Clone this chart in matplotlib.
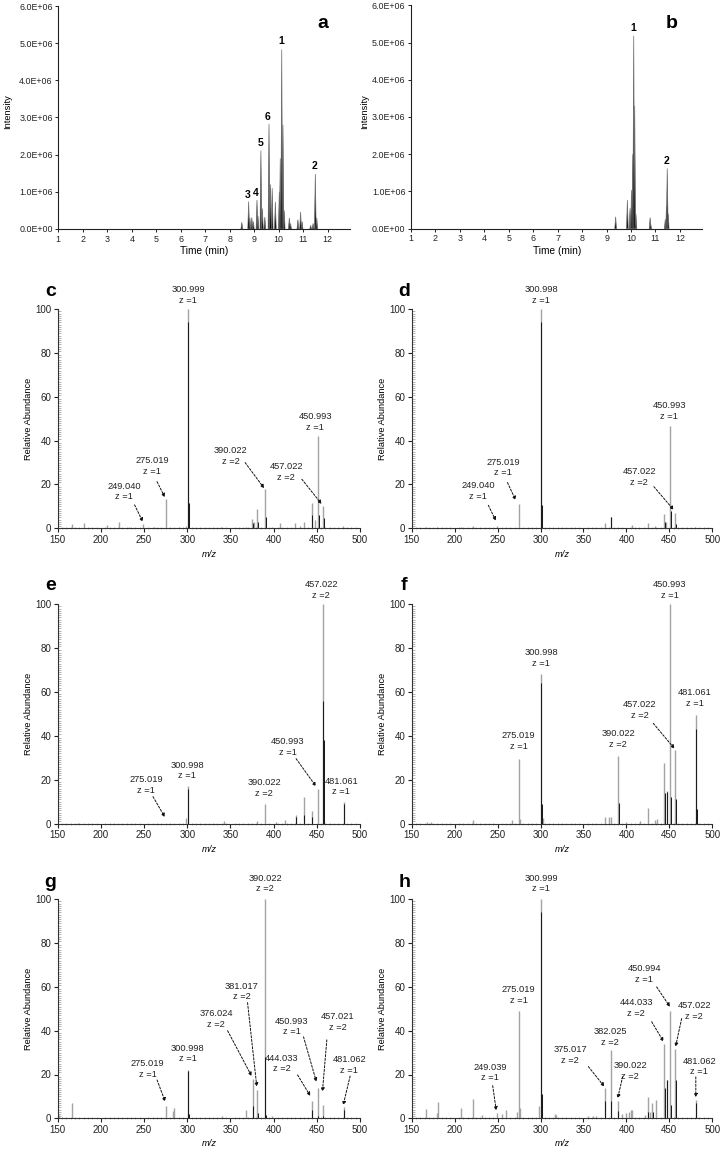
import matplotlib
matplotlib.use("Agg")
import matplotlib.pyplot as plt
from matplotlib.ticker import MultipleLocator, FuncFormatter

plt.rcParams['font.family'] = ['Liberation Sans', 'DejaVu Sans']

# ---------------- data: chromatograms ----------------
a_peak_t = [8.49, 8.77, 8.82, 8.90, 8.96, 9.11, 9.15, 9.27, 9.33, 9.43, 9.60, 9.66, 9.73,
            9.86, 10.02, 10.06, 10.12, 10.17, 10.22, 10.43, 10.48, 10.78, 10.89, 10.95,
            11.30, 11.40, 11.49, 11.55]
a_peak_h = [0.18e6, 0.74e6, 0.30e6, 0.31e6, 0.20e6, 0.78e6, 0.35e6, 2.11e6, 0.55e6, 0.32e6,
            2.83e6, 1.20e6, 1.10e6, 0.73e6, 1.00e6, 1.90e6, 4.83e6, 2.80e6, 0.50e6, 0.30e6,
            0.15e6, 0.25e6, 0.46e6, 0.20e6, 0.10e6, 0.15e6, 1.48e6, 0.30e6]
a_num = ['1', '2', '3', '4', '5', '6']
a_num_t = [10.10, 11.45, 8.73, 9.06, 9.26, 9.55]
a_num_y = [5.06e6, 1.70e6, 0.915e6, 0.98e6, 2.31e6, 3.02e6]

b_peak_t = [9.37, 9.85, 9.96, 10.02, 10.07, 10.11, 10.15, 10.20, 10.78, 10.80,
            11.40, 11.45, 11.48, 11.52]
b_peak_h = [0.32e6, 0.77e6, 0.55e6, 1.04e6, 2.00e6, 5.18e6, 3.30e6, 0.40e6, 0.30e6, 0.15e6,
            0.25e6, 0.60e6, 1.62e6, 0.40e6]
b_num = ['1', '2']
b_num_t = [10.09, 11.46]
b_num_y = [5.40e6, 1.83e6]

chrom_xticks = list(range(1, 13))
chrom_yticks = [0, 1e6, 2e6, 3e6, 4e6, 5e6, 6e6]

# ---------------- data: mass spectra ----------------
mz_ticks = [150, 200, 250, 300, 350, 400, 450, 500]
ab_ticks = [0, 20, 40, 60, 80, 100]

c_mz = [167, 181, 207, 221, 232, 249, 262, 275, 290, 298, 301, 339, 368, 375, 377, 381,
        390, 398, 407, 425, 431, 435, 444, 448, 451, 457, 480]
c_ab = [1.8, 2.2, 1.5, 2.8, 0.6, 1.8, 0.6, 13.4, 0.5, 1.2, 100, 0.8, 0.8, 4.2, 3.0, 8.8,
        17.8, 0.8, 2.3, 2.6, 1.2, 3.0, 11.7, 4.0, 42, 10.2, 1.2]
c_mz_k = [300.6, 302, 376, 382, 391, 445, 452, 458]
c_ab_k = [94, 11.4, 2.5, 3.0, 5.0, 6.0, 6.0, 4.5]
c_lab = ["300.999\nz =1", "450.993\nz =1", "390.022\nz =2", "457.022\nz =2",
         "275.019\nz =1", "249.040\nz =1"]
c_lab_xy = [(301, 102), (448, 44), (350, 28.6), (414.6, 21.3), (259, 24), (227, 12.3)]
c_arr_tail = [None, None, (367, 30), (432.7, 22.4), (265, 21.3), (239, 10.7)]
c_arr_head = [None, None, (389, 18.3), (455.5, 11.1), (274, 14.2), (248.5, 3)]

d_mz = [167, 180, 207, 221, 249, 275, 301, 375, 382, 407, 425, 433, 444, 446, 451, 457, 480]
d_ab = [0.6, 0.8, 0.6, 1.2, 1.0, 11.1, 100, 2.3, 5.0, 1.5, 2.3, 1.0, 6.4, 3.0, 46.9, 7.2, 0.6]
d_mz_k = [300.6, 302, 382, 444.5, 452, 457.5]
d_ab_k = [94, 10.7, 5.0, 3.0, 8.0, 2.0]
d_lab = ["300.998\nz =1", "450.993\nz =1", "275.019\nz =1", "249.040\nz =1", "457.022\nz =2"]
d_lab_xy = [(300.6, 102), (450, 49.2), (256.4, 23.3), (227.6, 12.6), (415, 19)]
d_arr_tail = [None, None, (261.5, 20.9), (239.2, 10.5), (432, 19)]
d_arr_head = [None, None, (271, 12.9), (248, 3.5), (455, 8.4)]

e_mz = [173, 299, 301, 342, 381, 390, 403, 413, 426, 435, 444, 451, 457, 481]
e_ab = [0.5, 2.5, 17, 1.4, 1.0, 9.1, 0.8, 1.8, 4.1, 12, 5.9, 15.9, 100, 9.9]
e_mz_k = [300.5, 426, 435.5, 444.5, 457.5, 458, 481.5]
e_ab_k = [16, 3.0, 4.0, 3.0, 56, 38, 9.0]
e_lab = ["457.022\nz =2", "450.993\nz =1", "481.061\nz =1", "390.022\nz =2",
         "300.998\nz =1", "275.019\nz =1"]
e_lab_xy = [(455, 102), (416, 30.5), (478.5, 12.4), (389, 11.8), (300, 19.7), (252.2, 13)]
e_arr_tail = [None, (426, 29.6), None, None, None, (260.3, 12.3)]
e_arr_head = [None, (449, 17), None, None, None, (274, 3)]

f_mz = [168, 173, 221, 267, 275, 276, 301, 303, 375, 380, 382, 390, 399, 416, 425, 433,
        436, 444, 447, 451, 457, 481]
f_ab = [0.6, 0.6, 1.8, 1.5, 29.5, 2.0, 68.4, 2.5, 3.2, 3.0, 3.0, 31, 0.8, 1.0, 7.3, 1.5,
        2.0, 27.5, 15, 100, 33.5, 49.6]
f_mz_k = [300.6, 302, 391, 444.5, 447.5, 452, 457.5, 481.5, 482.5]
f_ab_k = [64, 9.0, 9.4, 14, 14.5, 12, 11, 43, 6.5]
f_lab = ["450.993\nz =1", "300.998\nz =1", "481.061\nz =1", "457.022\nz =2",
         "390.022\nz =2", "275.019\nz =1"]
f_lab_xy = [(450.5, 102), (300.6, 71), (480, 52.7), (415.8, 47.4), (390.6, 34), (274.6, 33)]
f_arr_tail = [None, None, None, (431.3, 45.7), None, None]
f_arr_head = [None, None, None, (456, 34.2), None, None]

g_mz = [151, 167, 275, 284, 285, 301, 340, 368, 376, 381, 390, 398, 444, 451, 457, 481]
g_ab = [1.5, 7.0, 5.5, 3.5, 4.5, 22, 1.2, 4.0, 18, 13, 100, 1.0, 8.0, 14, 6.0, 5.0]
g_mz_k = [301, 302, 376.5, 381.5, 390.5, 391.5, 444.5, 451.5, 457.5, 481]
g_ab_k = [21.5, 2.0, 5.5, 2.5, 28, 1.5, 4.0, 1.0, 1.0, 4.0]
g_lab = ["390.022\nz =2", "381.017\nz =2", "376.024\nz =2", "300.998\nz =1",
         "275.019\nz =1", "450.993\nz =1", "457.021\nz =2", "444.033\nz =2",
         "481.062\nz =1"]
g_lab_xy = [(390, 102.7), (362.9, 53.4), (333.2, 40.8), (300.6, 25.1), (254, 18),
            (421, 37.4), (474, 39.3), (409.5, 20.5), (487.4, 19.9)]
g_arr_tail = [None, (369.8, 52.8), (346.7, 40), None, (265, 17.5), (434.6, 37.2),
              (461.6, 35.8), (427.7, 19.8), (488.6, 19.3)]
g_arr_head = [None, (380.5, 14.5), (374.5, 19.3), None, (274.5, 7.6), (449.5, 16.7),
              (456.5, 12.2), (442.5, 10.2), (480.5, 6)]

h_mz = [167, 180, 181, 207, 221, 232, 249, 255, 260, 273, 275, 276, 298, 301, 317, 318,
        355, 361, 365, 375, 382, 390, 395, 400, 403, 405, 407, 422, 425, 428, 430, 435,
        444, 447, 451, 457, 481]
h_ab = [4.2, 2.5, 7.5, 4.5, 9.0, 1.5, 2.5, 2.0, 4.0, 3.0, 48.8, 4.5, 5.5, 100, 2.0, 1.5,
        1.0, 1.2, 1.0, 14, 31, 7.8, 2.0, 2.5, 3.0, 4.0, 4.0, 1.5, 9.6, 3.0, 7.0, 8.5,
        34, 17.5, 49, 31.5, 8.5]
h_mz_k = [300.6, 302, 375.5, 382.5, 390.5, 425.5, 430.5, 444.5, 447.5, 451.5, 457.5, 481.5]
h_ab_k = [94, 11, 8.0, 8.0, 3.5, 3.0, 3.0, 14, 17.5, 6.0, 17.5, 7.0]
h_lab = ["300.999\nz =1", "275.019\nz =1", "450.994\nz =1", "444.033\nz =2",
         "457.022\nz =2", "382.025\nz =2", "375.017\nz =2", "390.022\nz =2",
         "481.062\nz =1", "249.039\nz =1"]
h_lab_xy = [(300.6, 102.7), (274.6, 51.8), (420.5, 61.3), (411.2, 45.8), (479, 44.6),
            (380.9, 32.7), (334.3, 24.5), (404.2, 17.2), (484.9, 19.2), (241.2, 16.4)]
h_arr_tail = [None, None, (435.2, 60), (429.4, 44.1), (464.3, 45.5), None, (355.7, 23.6),
              (395.6, 19), (480.8, 18.9), (244.3, 14.9)]
h_arr_head = [None, None, (450.7, 50.9), (443.2, 35), (457.2, 32.7), None, (374.3, 14.5),
              (389.8, 9.1), (480.8, 9.6), (248.4, 3.6)]

# ---------------- figure ----------------
W, H = 722, 1150
fig = plt.figure(figsize=(W / 100, H / 100), dpi=100)


def px_axes(left, right, top, bottom):
    return fig.add_axes([left / W, 1 - bottom / H, (right - left) / W, (bottom - top) / H])


def ftext(x, y, s, **kw):
    fig.text(x / W, 1 - y / H, s, **kw)


TICK_FS = 6.4
LAB_FS = 6.7
ANN_FS = 6.7
LETTER_FS = 14


def chrom_fmt(v, p):
    if v == 0:
        return '0.0E+00'
    return f'{v / 1e6:.1f}E+06'


def chromatogram(ax, ts, hs, nums, nts, nys, xmax):
    half_w = 0.035
    for t, h in zip(ts, hs):
        ax.fill([t - half_w, t, t + half_w], [0, h, 0], facecolor='black',
                edgecolor='#6e6e6e', linewidth=0.5, zorder=2)
    for s, t, y in zip(nums, nts, nys):
        ax.text(t, y, s, ha='center', va='center', fontsize=7.5, fontweight='bold')
    ax.set_xlim(1, xmax)
    ax.set_ylim(0, 6e6)
    ax.set_xticks(chrom_xticks)
    ax.set_yticks(chrom_yticks)
    ax.yaxis.set_major_formatter(FuncFormatter(chrom_fmt))
    for sp in ['top', 'right']:
        ax.spines[sp].set_visible(False)
    for sp in ['left', 'bottom']:
        ax.spines[sp].set_linewidth(0.8)
        ax.spines[sp].set_color('#222222')
    ax.tick_params(axis='both', direction='out', length=2.5, width=0.7, pad=1.5,
                   labelsize=TICK_FS, colors='#222222')


def spectrum(ax, mz, ab, mzk, abk, labs, labxy, tails, heads):
    ax.vlines(mz, 0, ab, colors='#a3a3a3', linewidth=1.0, zorder=2)
    ax.vlines(mzk, 0, abk, colors='#1c1c1c', linewidth=0.75, zorder=3)
    for s, (x, y), tl, hd in zip(labs, labxy, tails, heads):
        ax.text(x, y, s, ha='center', va='bottom', fontsize=ANN_FS, color='#222222',
                linespacing=1.25, clip_on=False)
        if tl is not None:
            ax.annotate('', xy=hd, xytext=tl, annotation_clip=False,
                        arrowprops=dict(arrowstyle='-|>', color='#111111', lw=0.7,
                                        linestyle=(0, (2.2, 1.6)), mutation_scale=5,
                                        shrinkA=0, shrinkB=0))
    ax.set_xlim(150, 500)
    ax.set_ylim(0, 100)
    ax.set_xticks(mz_ticks)
    ax.set_yticks(ab_ticks)
    ax.xaxis.set_minor_locator(MultipleLocator(5))
    ax.yaxis.set_minor_locator(MultipleLocator(1))
    for sp in ['top', 'right']:
        ax.spines[sp].set_visible(False)
    for sp in ['left', 'bottom']:
        ax.spines[sp].set_linewidth(0.8)
        ax.spines[sp].set_color('#333333')
    ax.tick_params(axis='both', which='major', direction='out', length=3, width=0.8,
                   pad=1.5, labelsize=TICK_FS + 0.6, colors='#222222')
    ax.tick_params(axis='y', which='minor', direction='in', length=2.0, width=0.45,
                   color='#8c8c8c')
    ax.tick_params(axis='x', which='minor', direction='inout', length=1.8, width=0.45,
                   color='#8a8a8a')


# panel a
ax_a = px_axes(58.3, 350, 6, 229)
chromatogram(ax_a, a_peak_t, a_peak_h, a_num, a_num_t, a_num_y, 12.906)
ftext(8, 112, 'Intensity', rotation=90, ha='center', va='center', fontsize=LAB_FS)
ftext(204, 251, 'Time (min)', ha='center', va='center', fontsize=LAB_FS + 0.6)
ftext(323, 23, 'a', ha='center', va='center', fontsize=LETTER_FS, fontweight='bold')

# panel b
ax_b = px_axes(411, 701.7, 5.3, 228.7)
chromatogram(ax_b, b_peak_t, b_peak_h, b_num, b_num_t, b_num_y, 12.89)
ftext(365, 112, 'Intensity', rotation=90, ha='center', va='center', fontsize=LAB_FS)
ftext(557, 251, 'Time (min)', ha='center', va='center', fontsize=LAB_FS + 0.6)
ftext(672, 23, 'b', ha='center', va='center', fontsize=LETTER_FS, fontweight='bold')

# spectra
rows = [(309.3, 528.3), (604.3, 823.6), (899.3, 1118.3)]
cols = [(57.7, 360.0), (411.7, 712.3)]
specs = [
    ('c', c_mz, c_ab, c_mz_k, c_ab_k, c_lab, c_lab_xy, c_arr_tail, c_arr_head),
    ('d', d_mz, d_ab, d_mz_k, d_ab_k, d_lab, d_lab_xy, d_arr_tail, d_arr_head),
    ('e', e_mz, e_ab, e_mz_k, e_ab_k, e_lab, e_lab_xy, e_arr_tail, e_arr_head),
    ('f', f_mz, f_ab, f_mz_k, f_ab_k, f_lab, f_lab_xy, f_arr_tail, f_arr_head),
    ('g', g_mz, g_ab, g_mz_k, g_ab_k, g_lab, g_lab_xy, g_arr_tail, g_arr_head),
    ('h', h_mz, h_ab, h_mz_k, h_ab_k, h_lab, h_lab_xy, h_arr_tail, h_arr_head),
]
letter_dy = [-17.5, -19, -16.5]
for i, (letter, mz, ab, mzk, abk, labs, lxy, tl, hd) in enumerate(specs):
    r, c = divmod(i, 2)
    top, bottom = rows[r]
    left, right = cols[c]
    ax = px_axes(left, right, top, bottom)
    spectrum(ax, mz, ab, mzk, abk, labs, lxy, tl, hd)
    ftext(left - 29.5, (top + bottom) / 2, 'Relative Abundance', rotation=90,
          ha='center', va='center', fontsize=LAB_FS)
    ftext((left + right) / 2, bottom + 25.7, 'm/z', ha='center', va='center',
          fontsize=LAB_FS, style='italic')
    ftext(left - 7.5, top + letter_dy[r], letter, ha='center', va='center',
          fontsize=LETTER_FS, fontweight='bold')

fig.savefig('out.png', dpi=100)
